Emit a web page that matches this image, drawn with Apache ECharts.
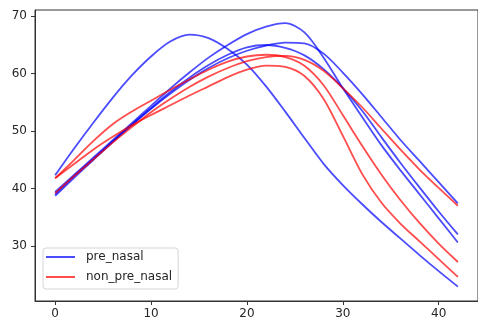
<!DOCTYPE html>
<html>
<head>
<meta charset="utf-8">
<script src="https://cdn.jsdelivr.net/npm/echarts@6/dist/echarts.min.js"></script>
<style>
  html, body { margin: 0; padding: 0; background: #fff; }
  #chart { width: 478px; height: 322px; }
</style>
</head>
<body>
<div id="chart"></div>
<script>
// sample positions along x
const xs = [0, 2, 4, 6, 8, 10, 12, 14, 16, 18, 20, 22, 24, 26, 28, 30, 32, 34, 36, 38, 40, 42];

// pre_nasal curves (blue)
const preA = [42.3, 47.0, 51.5, 55.8, 59.7, 63.0, 65.6, 66.8, 66.2, 64.3, 61.6, 57.8, 53.4, 48.8, 44.3, 40.6, 37.3, 34.2, 31.3, 28.4, 25.6, 22.9];
const preB = [39.4, 42.4, 45.4, 48.4, 51.4, 54.4, 57.4, 60.2, 62.8, 65.0, 66.9, 68.2, 68.8, 67.2, 62.8, 57.5, 52.5, 47.6, 43.2, 39.0, 34.8, 30.6];
const preC = [39.0, 42.2, 45.2, 48.2, 51.1, 53.9, 56.5, 58.9, 61.0, 62.7, 64.0, 64.9, 65.4, 65.3, 63.5, 60.2, 56.5, 52.5, 48.5, 44.8, 41.1, 37.4];
const preD = [38.7, 41.9, 45.0, 48.1, 51.1, 54.0, 56.8, 59.3, 61.5, 63.3, 64.6, 65.0, 64.5, 63.2, 60.8, 57.5, 53.6, 49.0, 44.5, 40.2, 36.0, 32.0];

// non_pre_nasal curves (red)
const nonA = [39.2, 42.2, 45.1, 48.0, 50.7, 53.3, 55.6, 57.7, 59.5, 61.0, 62.2, 62.9, 63.1, 62.4, 60.5, 57.5, 54.2, 50.5, 46.8, 43.3, 40.1, 37.0];
const nonB = [41.8, 45.0, 48.3, 51.2, 53.4, 55.3, 57.2, 59.0, 60.7, 62.1, 63.0, 63.3, 62.9, 61.4, 58.0, 52.8, 47.5, 42.5, 38.0, 34.0, 30.4, 27.2];
const nonC = [41.8, 44.3, 46.8, 49.0, 51.0, 52.8, 54.5, 56.2, 57.8, 59.4, 60.7, 61.4, 61.2, 59.6, 55.6, 49.2, 42.6, 37.6, 33.9, 30.8, 27.7, 24.6];

const xTicks = [0, 10, 20, 30, 40];
const yTicks = [30, 40, 50, 60, 70];

const BLUE = "rgba(0,0,255,0.7)";
const RED = "rgba(255,0,0,0.7)";

const makeSeries = (name, values, color) => ({
  name: name,
  type: "line",
  data: xs.map((x, i) => [x, values[i]]),
  smooth: 0.3,
  symbol: "none",
  color: color,
  lineStyle: { color: color, width: 1.8 },
});

const chart = echarts.init(document.getElementById("chart"), null, { renderer: "canvas" });

const axisText = { fontFamily: "DejaVu Sans", fontSize: 12, color: "#262626" };

chart.setOption({
  animation: false,
  backgroundColor: "#fff",
  grid: {
    left: 35,
    right: -4,
    top: 10,
    bottom: 21,
    show: true,
    borderColor: "#333",
    borderWidth: 1,
  },
  xAxis: {
    type: "value",
    min: -2.1,
    max: 44.1,
    splitLine: { show: false },
    axisLine: { show: true, onZero: false, lineStyle: { color: "#333", width: 1 } },
    axisTick: { show: true, length: 4, customValues: xTicks, lineStyle: { color: "#333" } },
    axisLabel: { ...axisText, margin: 7, customValues: xTicks },
  },
  yAxis: {
    type: "value",
    min: 20.4,
    max: 71.1,
    splitLine: { show: false },
    axisLine: { show: true, onZero: false, lineStyle: { color: "#333", width: 1 } },
    axisTick: { show: true, length: 4, customValues: yTicks, lineStyle: { color: "#333" } },
    axisLabel: { ...axisText, margin: 8, customValues: yTicks },
  },
  legend: {
    orient: "vertical",
    left: 43,
    top: 248,
    data: ["pre_nasal", "non_pre_nasal"],
    icon: "rect",
    itemWidth: 29,
    itemHeight: 2,
    itemGap: 8,
    padding: [3, 6, 6, 3],
    borderColor: "#d5d5d5",
    borderWidth: 1,
    borderRadius: 3,
    backgroundColor: "rgba(255,255,255,0.8)",
    textStyle: { fontFamily: "DejaVu Sans", fontSize: 12, color: "#262626", padding: [0, 0, 0, 6] },
  },
  series: [
    makeSeries("pre_nasal", preA, BLUE),
    makeSeries("pre_nasal", preB, BLUE),
    makeSeries("pre_nasal", preC, BLUE),
    makeSeries("pre_nasal", preD, BLUE),
    makeSeries("non_pre_nasal", nonA, RED),
    makeSeries("non_pre_nasal", nonB, RED),
    makeSeries("non_pre_nasal", nonC, RED),
  ],
});
</script>
</body>
</html>
